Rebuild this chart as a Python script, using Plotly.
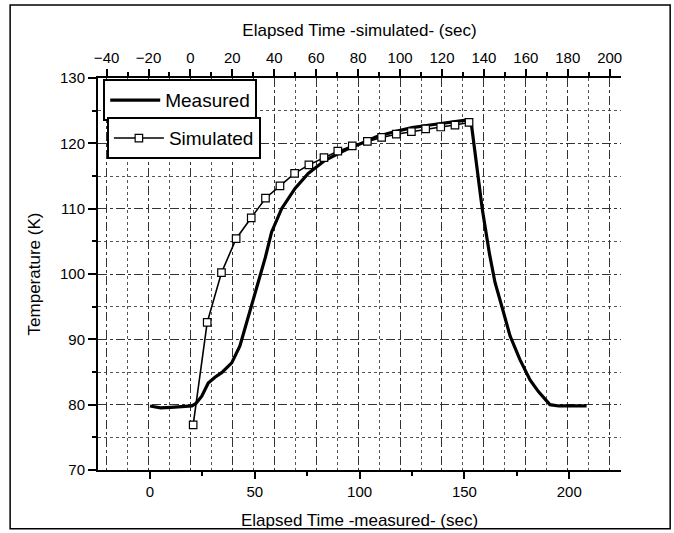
import plotly.graph_objects as go

# ---- data ----
measured_t = [0, 5, 10, 15, 20, 22, 24.7, 27.8, 31, 34.2, 39, 42.9, 46.1, 48.5, 52.5,
              55, 58, 62.8, 69.2, 75.5, 83.5, 94.6, 101, 108, 116.9, 125, 133.6, 142,
              151.9, 153.5, 158.5, 162, 164.6, 167.8, 171.8, 176.5, 181.3, 185.3,
              190.8, 195, 200, 208.3]
measured_T = [79.8, 79.5, 79.6, 79.7, 79.8, 80.2, 81.3, 83.3, 84.2, 84.9, 86.4, 89.0,
              92.6, 95.6, 99.7, 102.5, 106.4, 110.0, 113.1, 115.4, 117.4, 119.2, 120.0,
              121.0, 121.8, 122.4, 122.8, 123.2, 123.6, 122.5, 110.0, 103.0, 98.7,
              95.1, 90.5, 86.9, 83.8, 82.0, 80.0, 79.8, 79.8, 79.8]

simulated_t = [1.3, 8, 14.8, 21.8, 29, 35.8, 42.7, 49.7, 56.5, 63.7, 70.3, 77.2, 84.4,
               91.2, 98.2, 105.4, 112.2, 119.4, 126.2, 132.9]
simulated_T = [76.9, 92.6, 100.2, 105.4, 108.6, 111.6, 113.5, 115.4, 116.7, 117.8,
               118.8, 119.6, 120.3, 120.9, 121.4, 121.8, 122.2, 122.5, 122.8, 123.2]

bottom_range = [-24.8, 224.7]
time_offset = 19.3
top_range = [bottom_range[0] - time_offset, bottom_range[1] - time_offset]
y_range = [70, 130]

FONT = "Liberation Sans, Arial, sans-serif"

fig = go.Figure()
fig.add_trace(go.Scatter(x=measured_t, y=measured_T, mode="lines", name="Measured",
                         xaxis="x", yaxis="y",
                         line=dict(color="black", width=3.2), legend="legend"))
fig.add_trace(go.Scatter(x=simulated_t, y=simulated_T, mode="lines+markers", name="Simulated",
                         xaxis="x2", yaxis="y",
                         line=dict(color="black", width=1.6),
                         marker=dict(symbol="square", size=7.5, color="white",
                                     line=dict(color="black", width=1.2)),
                         legend="legend2"))

tickfont = dict(family=FONT, size=15, color="black")
titlefont = dict(family=FONT, size=17, color="black")

fig.update_layout(
    width=674, height=533,
    margin=dict(l=98, r=53, t=78, b=63),
    paper_bgcolor="white", plot_bgcolor="white",
    font=dict(family=FONT, color="black"),
    xaxis=dict(range=bottom_range, tick0=0, dtick=50, ticks="outside", ticklen=7,
               tickwidth=1.5, tickcolor="black", showline=True, linecolor="black",
               linewidth=2, showgrid=False, zeroline=False, tickfont=tickfont,
               automargin=False,
               title=dict(text="Elapsed Time -measured- (sec)", font=titlefont),
               minor=dict(dtick=25, tick0=0, ticks="outside", ticklen=4,
                          tickcolor="black", showgrid=False)),
    xaxis2=dict(range=top_range, overlaying="x", side="top", anchor="y", tick0=0, dtick=20,
                ticks="outside", ticklen=7, tickwidth=1.5, tickcolor="black",
                showline=True, linecolor="black", linewidth=2, zeroline=False,
                showgrid=True, gridcolor="#333", gridwidth=1, griddash="dashdot",
                tickfont=tickfont, automargin=False,
                title=dict(text="Elapsed Time -simulated- (sec)", font=titlefont, standoff=8),
                minor=dict(dtick=10, tick0=0, ticks="outside", ticklen=4, tickcolor="black",
                           showgrid=True, gridcolor="#555", gridwidth=1, griddash="dot")),
    xaxis3=dict(range=top_range, overlaying="x", anchor="y", showticklabels=False,
                ticks="", showline=False, zeroline=False, tickmode="array",
                tickvals=[0, 40, 80, 120, 160], showgrid=True, gridcolor="#111",
                gridwidth=1.2, automargin=False),
    yaxis=dict(range=y_range, tick0=70, dtick=10, ticks="outside", ticklen=8,
               tickwidth=1.5, tickcolor="black", showline=True, linecolor="black",
               linewidth=2, zeroline=False, showgrid=True, gridcolor="#333",
               gridwidth=1, griddash="dashdot", tickfont=tickfont, automargin=False,
               title=dict(text="Temperature (K)", font=titlefont),
               minor=dict(dtick=5, tick0=70, ticks="outside", ticklen=4, tickcolor="black",
                          showgrid=True, gridcolor="#555", gridwidth=1, griddash="dot")),
    yaxis2=dict(range=y_range, overlaying="y", side="right", anchor="x", tick0=70, dtick=10,
                ticks="outside", ticklen=8, tickwidth=1.5, tickcolor="black",
                showline=True, linecolor="black", linewidth=2, zeroline=False,
                showgrid=False, tickfont=tickfont, automargin=False,
                minor=dict(dtick=5, tick0=70, ticks="outside", ticklen=4, tickcolor="black",
                           showgrid=False)),
    yaxis3=dict(range=y_range, overlaying="y", anchor="x", showticklabels=False, ticks="",
                showline=False, zeroline=False, tickmode="array", tickvals=[80, 100, 120],
                showgrid=True, gridcolor="#111", gridwidth=1.2, automargin=False),
    legend=dict(x=0.01, y=0.997, xanchor="left", yanchor="top", bgcolor="white",
                bordercolor="black", borderwidth=2,
                font=dict(family=FONT, size=19, color="black"), itemwidth=50,
                tracegroupgap=0),
    legend2=dict(x=0.017, y=0.9, xanchor="left", yanchor="top", bgcolor="white",
                 bordercolor="black", borderwidth=2,
                 font=dict(family=FONT, size=19, color="black"), itemwidth=50,
                 tracegroupgap=0),
    showlegend=True,
)

# outer frame around the whole picture
fig.add_shape(type="rect", xref="paper", yref="paper",
              x0=-0.168, x1=1.094, y0=-0.15, y1=1.186,
              line=dict(color="black", width=1.5), layer="below")

fig.write_html("out.html", config={"displayModeBar": False},
               post_script="document.body.style.margin='0';document.body.style.padding='0';")
